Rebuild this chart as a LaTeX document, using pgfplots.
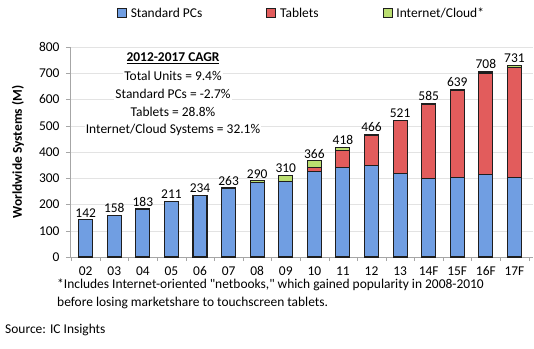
\documentclass[border=0pt]{standalone}
\usepackage{pgfplots}
\pgfplotsset{compat=1.18}
\usepackage{pgfplotstable}
\usepackage{fontspec}
\setmainfont{Carlito}[Ligatures=TeXOff]

\definecolor{pcC}{RGB}{112,158,226}
\definecolor{tbC}{RGB}{226,92,92}
\definecolor{ncC}{RGB}{186,222,112}
\definecolor{edge}{RGB}{30,30,30}

\pgfplotstableread{
x pc tab net tot
0 142 0 0 142
1 158 0 0 158
2 183 0 0 183
3 211 0 0 211
4 234 0 0 234
5 263 0 0 263
6 285 0 5 290
7 287 0 23 310
8 325 17 24 366
9 342 63 13 418
10 348 116 2 466
11 319 200 2 521
12 300 282 3 585
13 304 330 5 639
14 315 386 7 708
15 304 419 8 731
}\datatable

\newcommand{\fs}{\fontsize{13.5}{15}\selectfont}

\begin{document}
\begin{tikzpicture}
\useasboundingbox (-70bp,-92bp) rectangle (464bp,257bp);
\begin{axis}[
  at={(0bp,0bp)}, anchor=south west,
  scale only axis, width=463bp, height=210bp,
  ybar stacked, bar width=14bp,
  xmin=-0.55, xmax=15.65, ymin=0, ymax=800,
  ytick={0,100,...,800},
  xtick={0,...,15},
  xticklabels={02,03,04,05,06,07,08,09,10,11,12,13,14F,15F,16F,17F},
  minor xtick={-0.5,0.5,...,15.5},
  major x tick style={draw=none},
  tick align=outside,
  major tick length=4bp, minor tick length=4bp,
  minor x tick style={gray!70},
  y tick style={gray!70},
  axis x line*=bottom, axis y line*=left,
  axis line style={gray!70},
  ymajorgrids, grid style={gray!22},
  /pgf/number format/assume math mode=true,
  ticklabel style={font=\fs},
  yticklabel style={xshift=-3bp},
  xticklabel style={yshift=-2bp},
  legend style={at={(0.5,1)}, anchor=south, yshift=24bp, draw=none, fill=none,
    legend columns=3, font=\fs,
    /tikz/every odd column/.append style={column sep=2bp},
    /tikz/every even column/.append style={column sep=62bp}},
  legend cell align=left,
  legend image code/.code={\draw[#1,line width=0.8bp] (0bp,-4.5bp) rectangle (9bp,4.5bp);},
  every axis plot/.append style={draw=edge, line width=1.1bp},
]
\addplot[fill=pcC, draw=edge] table[x=x,y=pc]{\datatable};
\addlegendentry{Standard PCs}
\addplot[fill=tbC, draw=edge] table[x=x,y=tab]{\datatable};
\addlegendentry{Tablets}
\addplot[fill=ncC, draw=edge] table[x=x,y=net]{\datatable};
\addlegendentry{Internet/Cloud*}

\node[font=\fs\bfseries, fill=white, inner sep=1bp] at (rel axis cs:0.2225,0.948) {\underline{2012-2017 CAGR}};
\node[font=\fs, fill=white, inner sep=1bp] at (rel axis cs:0.2225,0.862) {Total Units = 9.4\%};
\node[font=\fs, fill=white, inner sep=1bp] at (rel axis cs:0.2225,0.776) {Standard PCs = -2.7\%};
\node[font=\fs, fill=white, inner sep=1bp] at (rel axis cs:0.2225,0.690) {Tablets = 28.8\%};
\node[font=\fs, fill=white, inner sep=1bp] at (rel axis cs:0.2225,0.605) {Internet/Cloud Systems = 32.1\%};
\end{axis}
\begin{axis}[
  at={(0bp,0bp)}, anchor=south west,
  scale only axis, width=463bp, height=210bp,
  xmin=-0.55, xmax=15.65, ymin=0, ymax=800,
  hide axis,
  /pgf/number format/assume math mode=true,
]
\addplot[draw=none, mark=none, nodes near coords,
  point meta=explicit,
  nodes near coords style={font=\fs, anchor=south, inner sep=1bp, yshift=1.5bp}]
  table[x=x,y=tot,meta=tot]{\datatable};
\end{axis}
\node[rotate=90, font=\fs\bfseries] at (-52bp,105bp) {Worldwide Systems (M)};
\node[anchor=west, font=\fs, inner sep=0pt] at (-13bp,-28bp) {*Includes Internet-oriented "netbooks," which gained popularity in 2008-2010};
\node[anchor=west, font=\fs, inner sep=0pt] at (-13bp,-46bp) {before losing marketshare to touchscreen tablets.};
\node[anchor=west, font=\fs, inner sep=0pt] at (-65bp,-73bp) {Source: IC Insights};
\end{tikzpicture}
\end{document}
